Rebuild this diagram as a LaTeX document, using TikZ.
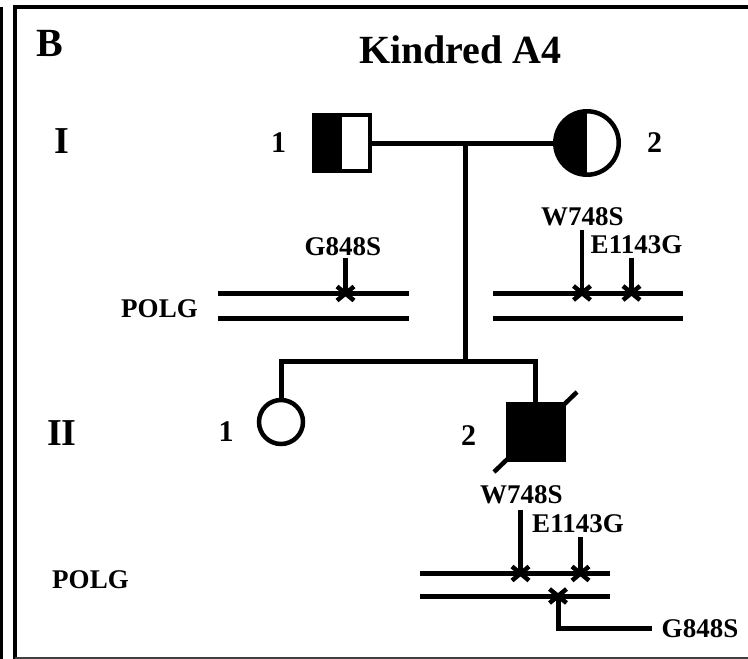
\documentclass[tikz,border=0pt]{standalone}
\usepackage{fontspec}
\setmainfont{Liberation Serif}
\usetikzlibrary{shapes.misc,calc}
\begin{document}
\begin{tikzpicture}[x=1pt,y=-1pt,
  ped/.style={line width=5pt},
  chrom/.style={line width=5pt},
  tick/.style={line width=4.5pt},
  mut/.style={draw, cross out, line width=4.5pt, minimum width=12.5pt, minimum height=9.5pt, inner sep=0pt},
  malesym/.style={draw, rectangle, line width=4pt, minimum size=56pt, inner sep=0pt},
  femsym/.style={draw, circle, line width=4.5pt, inner sep=0pt},
  halfleft/.style={path picture={\fill[black] (path picture bounding box.south west) rectangle (path picture bounding box.north);}},
  txt/.style={inner sep=0pt, anchor=base, font=\bfseries\fontsize{#1}{#1}\selectfont},
]
\useasboundingbox (0,0) rectangle (748,659);

% frame
\draw[line width=3pt] (1.5,7) -- (1.5,659);
\draw[line width=4pt] (15,5) -- (15,659);
\draw[line width=4pt] (13,7) -- (748,7);
\draw[line width=2pt, black!75] (15,657.5) -- (748,657.5);

% titles
\node[txt=40] (B) at (50,56) {B};
\node[txt=40] (title) at (460.5,63) {Kindred A4};
\node[txt=38] (genI) at (62,153) {I};
\node[txt=38] (genII) at (62,445) {II};

% pedigree symbols
\node[malesym, halfleft] (f) at (342,143) {};
\node[femsym, halfleft, minimum size=63.5pt] (m) at (587,143) {};
\node[femsym, minimum size=44pt] (d) at (281,422) {};
\node[malesym, fill=black] (s) at (535.5,431.5) {};

\node[txt=30] (nf) at (278.5,152) {1};
\node[txt=30] (nm) at (654.5,152) {2};
\node[txt=30] (nd) at (226,441) {1};
\node[txt=30] (ns) at (468.5,445) {2};

\coordinate (mid) at (465,143);
\coordinate (sib) at (465,361.5);
\draw[ped] (f.east) -- (m.west);
\draw[ped] (mid) -- (sib);
\draw[ped] (d.north) |- (sib) -| (s.north);
\draw[line width=4.5pt] ($(s.center)+(-41.5,40.5)$) -- ($(s.center)+(41.5,-39.5)$);

% chromosomes generation I
\coordinate (a1) at (218,293.5); \coordinate (a2) at (409,293.5);
\coordinate (a3) at (218,318.5); \coordinate (a4) at (409,318.5);
\coordinate (b1) at (493,293); \coordinate (b2) at (683,293);
\coordinate (b3) at (493,318); \coordinate (b4) at (683,318);
\draw[chrom] (a1) -- (a2);
\draw[chrom] (a3) -- (a4);
\draw[chrom] (b1) -- (b2);
\draw[chrom] (b3) -- (b4);

% chromosomes generation II
\coordinate (c1) at (420,573.5); \coordinate (c2) at (610,573.5);
\coordinate (c3) at (420,596); \coordinate (c4) at (610,596);
\draw[chrom] (c1) -- (c2);
\draw[chrom] (c3) -- (c4);

% mutation ticks
\coordinate (ta) at (345.5,258);
\coordinate (tb) at (582,230);
\coordinate (tc) at (631.5,258);
\coordinate (td) at (520.5,510);
\coordinate (te) at (580.5,537);
\coordinate (tf) at (652,628);

\node[mut] (xa) at (345.5,293.5) {};
\node[mut] (xb) at (582,293) {};
\node[mut] (xc) at (631.5,293) {};
\node[mut] (xd) at (520.5,573.5) {};
\node[mut] (xe) at (580.5,573.5) {};
\node[mut] (xf) at (558,596) {};

\draw[tick] (ta) -- (xa.center);
\draw[tick] (tb) -- (xb.center);
\draw[tick] (tc) -- (xc.center);
\draw[tick] (td) -- (xd.center);
\draw[tick] (te) -- (xe.center);
\draw[line width=5pt] (xf.center) |- (tf);

% labels
\node[txt=27] (la) at (343,255) {G848S};
\node[txt=27] (lb) at (582.5,225) {W748S};
\node[txt=27] (lc) at (636.5,253) {E1143G};
\node[txt=27] (ld) at (521.5,503) {W748S};
\node[txt=27] (le) at (578,532) {E1143G};
\node[txt=27] (lf) at (700,637) {G848S};
\node[txt=27] (p1) at (159.5,317) {POLG};
\node[txt=27] (p2) at (90.5,588) {POLG};
\end{tikzpicture}
\end{document}
